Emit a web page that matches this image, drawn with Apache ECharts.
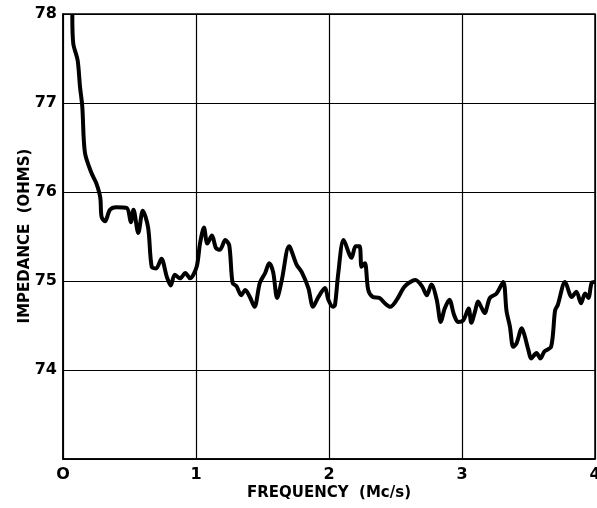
<!DOCTYPE html>
<html><head><meta charset="utf-8">
<script src="https://cdn.jsdelivr.net/npm/echarts@6/dist/echarts.min.js"></script>
<style>html,body{margin:0;padding:0;background:#fff;overflow:hidden}#c{width:597px;height:508px}</style>
</head><body><div id="c"></div>
<script>
const freq = [0.07,0.077,0.11,0.128,0.145,0.165,0.215,0.25,0.28,0.29,0.316,0.353,0.40,0.48,0.51,0.53,0.566,0.60,0.64,0.667,0.70,0.74,0.78,0.81,0.84,0.88,0.92,0.955,1.005,1.03,1.06,1.085,1.12,1.15,1.18,1.22,1.25,1.275,1.305,1.34,1.37,1.405,1.44,1.48,1.52,1.55,1.58,1.61,1.645,1.70,1.757,1.795,1.845,1.88,1.92,1.97,1.995,2.03,2.045,2.07,2.11,2.17,2.2,2.23,2.245,2.27,2.295,2.33,2.38,2.42,2.46,2.51,2.57,2.65,2.70,2.735,2.77,2.81,2.84,2.87,2.905,2.94,2.97,3.01,3.05,3.07,3.1,3.12,3.15,3.17,3.21,3.26,3.31,3.335,3.36,3.385,3.41,3.45,3.47,3.5,3.52,3.56,3.59,3.62,3.67,3.7,3.72,3.775,3.825,3.86,3.895,3.925,3.95,3.975,4.0];
const impedance = [78.0,77.67,77.48,77.18,76.96,76.44,76.21,76.1,75.94,75.72,75.67,75.8,75.83,75.82,75.66,75.8,75.54,75.79,75.6,75.16,75.14,75.25,75.05,74.95,75.07,75.03,75.09,75.03,75.16,75.42,75.6,75.42,75.51,75.37,75.35,75.46,75.4,74.98,74.94,74.84,74.9,74.82,74.71,74.98,75.09,75.2,75.1,74.81,75.01,75.39,75.18,75.1,74.92,74.71,74.82,74.92,74.79,74.71,74.73,75.09,75.46,75.26,75.39,75.39,75.16,75.2,74.9,74.82,74.81,74.75,74.71,74.79,74.94,75.01,74.94,74.84,74.96,74.79,74.54,74.69,74.79,74.62,74.54,74.56,74.69,74.53,74.67,74.77,74.69,74.64,74.81,74.86,74.99,74.66,74.49,74.26,74.3,74.47,74.39,74.22,74.13,74.19,74.13,74.21,74.26,74.67,74.73,74.99,74.82,74.88,74.75,74.86,74.81,74.98,74.99];
const xTicks = ['O','1','2','3','4'];
const yTicks = ['','74','75','76','77','78'];
const xTitle = 'FREQUENCY  (Mc/s)';
const yTitle = 'IMPEDANCE  (OHMS)';

const font = '"DejaVu Sans", sans-serif';
const titleStyle = {fill:'#000',font:'bold 15px "DejaVu Sans", sans-serif',textAlign:'center',textVerticalAlign:'middle'};
const chart = echarts.init(document.getElementById('c'), null, {renderer:'canvas'});
chart.setOption({
  animation:false,
  grid:{left:63,top:14,right:2,bottom:49,show:true,borderColor:'#000',borderWidth:1.5,
    containLabel:false,outerBoundsMode:'none'},
  graphic:[
    {type:'text',x:329,y:493,style:Object.assign({text:xTitle},titleStyle)},
    {type:'text',x:25,y:236,rotation:Math.PI/2,style:Object.assign({text:yTitle},titleStyle)}
  ],
  xAxis:{type:'value',min:0,max:4,interval:1,
    axisLine:{show:true,lineStyle:{color:'#000',width:1.5}},
    axisTick:{show:false},
    splitLine:{show:true,lineStyle:{color:'#000',width:1.2}},
    axisLabel:{color:'#000',fontFamily:font,fontWeight:'bold',fontSize:16,margin:8,
      formatter:v=>xTicks[Math.round(v)]}
  },
  yAxis:{type:'value',min:73,max:78,interval:1,
    axisLine:{show:true,lineStyle:{color:'#000',width:1.5}},
    axisTick:{show:false},
    splitLine:{show:true,lineStyle:{color:'#000',width:1.2}},
    axisLabel:{color:'#000',fontFamily:font,fontWeight:'bold',fontSize:16,margin:6,
      formatter:v=>yTicks[Math.round(v)-73]}
  },
  series:[{type:'line',data:freq.map((f,i)=>[f,impedance[i]]),showSymbol:false,smooth:0.3,
    lineStyle:{color:'#000',width:4},clip:true}]
});
</script></body></html>
